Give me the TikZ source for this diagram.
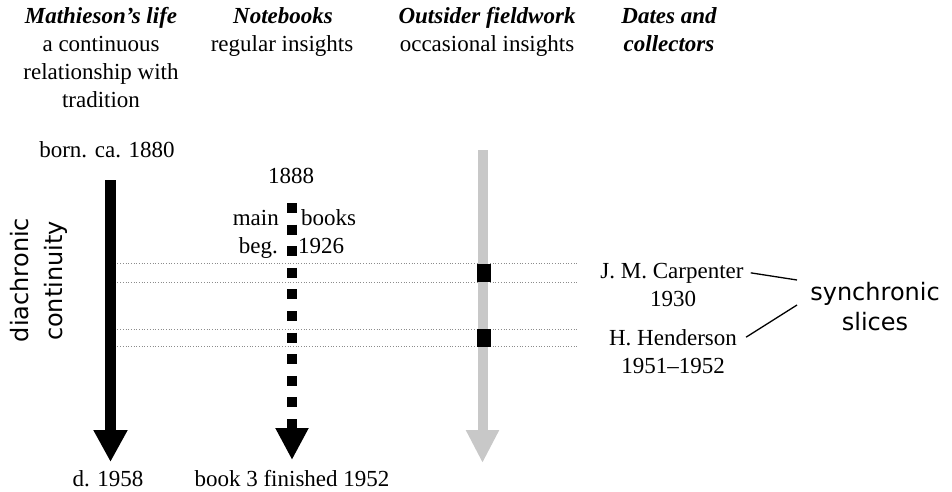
\documentclass[tikz,border=0pt]{standalone}
\usepackage{fontspec}
\setmainfont{Liberation Serif}
\newfontfamily\sansf{DejaVu Sans}
\usetikzlibrary{arrows.meta}
\definecolor{lightarr}{HTML}{C8C8C8}
\definecolor{sliceline}{HTML}{8C8C8C}
\tikzset{
  txt/.style={font=\fontsize{23}{28}\selectfont, inner sep=0pt, anchor=base},
  hdr/.style={txt, font=\fontsize{23}{28}\selectfont\bfseries\itshape},
  sanstxt/.style={font=\sansf\fontsize{24}{30}\selectfont, inner sep=0pt, anchor=base},
  slice/.style={sliceline, line width=0.7pt, dotted},
  conn/.style={line width=1.3pt, black},
  blockmark/.style={fill=black, inner sep=0pt, minimum width=14pt, minimum height=18pt}
}
\begin{document}
\begin{tikzpicture}[x=1pt, y=-1pt]
\useasboundingbox (0,0) rectangle (952,492);
% headers
\node[hdr] (h1) at (101,24) {Mathieson’s life};
\node[txt] (h1a) at (101,52) {a continuous};
\node[txt] (h1b) at (101,80) {relationship with};
\node[txt] (h1c) at (101,108) {tradition};
\node[hdr] (h2) at (283,24) {Notebooks};
\node[txt] (h2a) at (282,52) {regular insights};
\node[hdr] (h3) at (487,24) {Outsider fieldwork};
\node[txt] (h3a) at (487,52) {occasional insights};
\node[hdr] (h4) at (669,24) {Dates and};
\node[hdr] (h4a) at (669,52) {collectors};
% slice lines
\draw[slice] (112,263) -- (578,263);
\draw[slice] (112,282) -- (578,282);
\draw[slice] (112,329) -- (578,329);
\draw[slice] (112,346) -- (578,346);
% arrows
\coordinate (lifeTop) at (110.5,180);
\coordinate (lifeEnd) at (110.5,462);
\draw[line width=11pt, -{Triangle[length=32pt,width=32pt]}] (lifeTop) -- (lifeEnd);
\coordinate (bookTop) at (292,203);
\coordinate (bookEnd) at (292,460);
\draw[line width=10pt, dash pattern=on 10pt off 11.6pt, -{Triangle[length=32pt,width=31pt]}] (bookTop) -- (bookEnd);
\coordinate (outTop) at (482.5,150);
\coordinate (outEnd) at (482.5,463);
\draw[lightarr, line width=10pt, -{Triangle[length=33pt,width=31pt]}] (outTop) -- (outEnd);
\node[blockmark] (m1) at (484,272.5) {};
\node[blockmark] (m2) at (484,337.5) {};
% labels on arrows
\node[txt] (born) at (107,157) {born. ca. 1880};
\node[txt] (died) at (108,486) {d. 1958};
\node[txt] (y1888) at (291,183) {1888};
\node[txt, anchor=base east] (main) at (279,225) {main};
\node[txt, anchor=base west] (books) at (301,225) {books};
\node[txt, anchor=base east] (beg) at (278,253) {beg.};
\node[txt, anchor=base west] (y1926) at (298,253) {1926};
\node[txt] (fin) at (292,486) {book 3 finished 1952};
% collectors
\node[txt] (carp) at (672,278) {J. M. Carpenter};
\node[txt] (carpy) at (673,306) {1930};
\node[txt] (hend) at (673,345) {H. Henderson};
\node[txt] (hendy) at (673,373) {1951–1952};
% synchronic
\node[sanstxt] (sync) at (875,300) {synchronic};
\node[sanstxt] (slices) at (875,330) {slices};
\coordinate (sA) at (797,280);
\coordinate (sB) at (797,305);
\draw[conn] ([xshift=7pt]carp.east) -- (sA);
\draw[conn] ([xshift=9pt]hend.east) -- (sB);
% diachronic
\node[sanstxt, rotate=90] (dia) at (28,280) {diachronic};
\node[sanstxt, rotate=90] (cont) at (62,281) {continuity};
\end{tikzpicture}
\end{document}
